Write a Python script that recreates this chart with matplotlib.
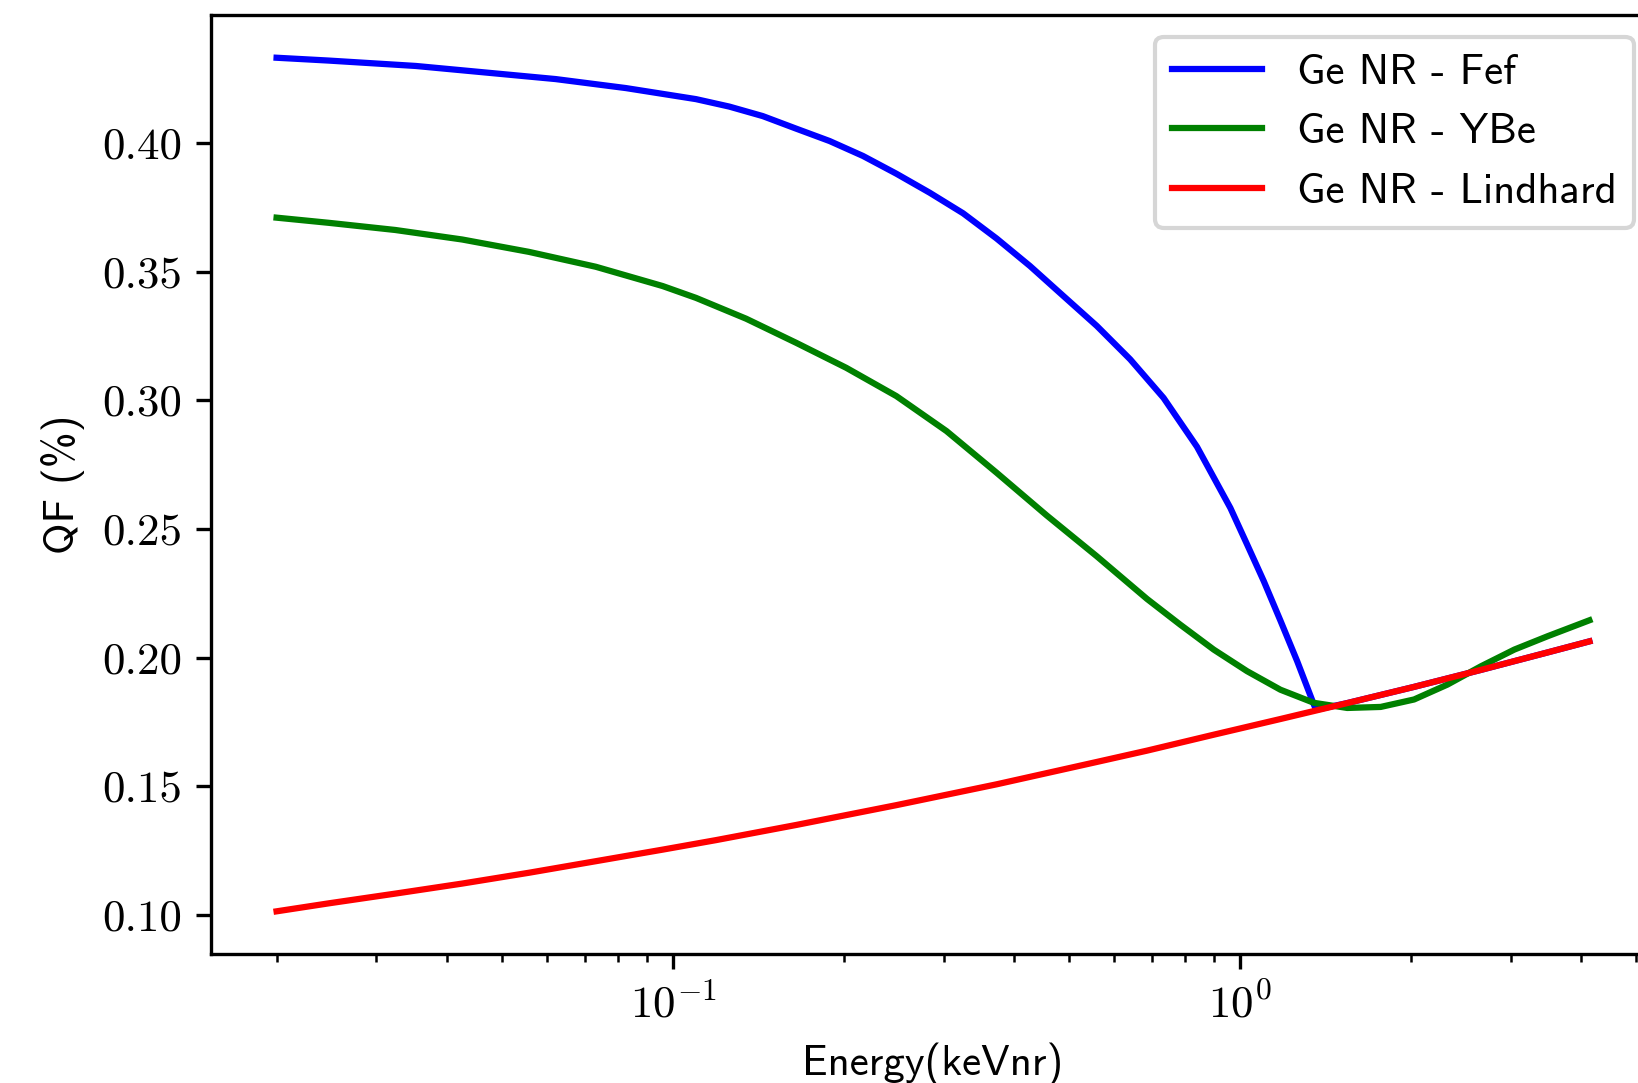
import os
import matplotlib
matplotlib.use("Agg")
import matplotlib.pyplot as plt
from matplotlib import font_manager as fm
from matplotlib.ticker import NullFormatter

# readings: energy (keVnr) and QF
e_fef = [0.02, 0.0247, 0.0352, 0.0621, 0.0826, 0.1098, 0.1257, 0.1440, 0.1650, 0.1889,
         0.2163, 0.2477, 0.2836, 0.3248, 0.3721, 0.4261, 0.4882, 0.5589, 0.6401, 0.7330,
         0.8395, 0.9614, 1.029, 1.1012, 1.178, 1.261, 1.3495, 1.362, 1.5453, 2.027,
         2.659, 3.486, 4.131]
qf_fef = [0.4333, 0.4322, 0.4301, 0.4250, 0.4215, 0.4172, 0.4143, 0.4106, 0.4057, 0.4009,
          0.3951, 0.3882, 0.3808, 0.3728, 0.3630, 0.3523, 0.3406, 0.3290, 0.3160, 0.3010,
          0.2820, 0.2582, 0.2440, 0.2297, 0.2144, 0.1986, 0.1817, 0.1797, 0.1823, 0.1886,
          0.1952, 0.2020, 0.2063]

e_ybe = [0.02, 0.0247, 0.0324, 0.0425, 0.0557, 0.0731, 0.0959, 0.1098, 0.1346, 0.1650,
         0.2021, 0.2477, 0.3036, 0.3721, 0.456, 0.5589, 0.6854, 0.7844, 0.8986, 1.029,
         1.178, 1.3495, 1.5453, 1.7698, 2.027, 2.3215, 2.659, 3.045, 3.486, 4.131]
qf_ybe = [0.3711, 0.3691, 0.3663, 0.3626, 0.3578, 0.3520, 0.3445, 0.3399, 0.3318, 0.3224,
          0.3127, 0.3017, 0.2881, 0.2719, 0.2553, 0.2394, 0.2228, 0.2128, 0.2031, 0.1947,
          0.1875, 0.1824, 0.1804, 0.1808, 0.1837, 0.1895, 0.1966, 0.2031, 0.2083, 0.2145]

e_lind = [0.02, 0.0247, 0.0324, 0.0425, 0.0557, 0.0731, 0.0959, 0.1191, 0.1650, 0.2477,
          0.3721, 0.5589, 0.6854, 0.8986, 1.178, 1.5453, 2.027, 2.659, 3.486, 4.131]
qf_lind = [0.1013, 0.1044, 0.1082, 0.1121, 0.1163, 0.1208, 0.1253, 0.1290, 0.1349, 0.1426,
           0.1507, 0.1594, 0.1638, 0.1700, 0.1761, 0.1823, 0.1886, 0.1952, 0.2020, 0.2063]

labels = ["Ge NR - Fef", "Ge NR - YBe", "Ge NR - Lindhard"]
colors = ["blue", "green", "red"]

yticks = [0.10, 0.15, 0.20, 0.25, 0.30, 0.35, 0.40]
xticks = [0.1, 1.0]
xticklabels = [r"$10^{-1}$", r"$10^{0}$"]

ttf_dir = os.path.join(matplotlib.get_data_path(), "fonts", "ttf")
cmss = fm.FontProperties(fname=os.path.join(ttf_dir, "cmss10.ttf"), size=10.3)
cmr = fm.FontProperties(fname=os.path.join(ttf_dir, "cmr10.ttf"), size=10.8)

plt.rcParams["mathtext.fontset"] = "cm"
plt.rcParams["mathtext.default"] = "rm"

fig = plt.figure(figsize=(1639 / 300, 1083 / 300), dpi=300)
ax = fig.add_axes([0.1287, 0.1191, 0.8811, 0.8670])

for e, q, lab, c in zip([e_fef, e_ybe, e_lind], [qf_fef, qf_ybe, qf_lind], labels, colors):
    ax.plot(e, q, color=c, label=lab)

ax.set_xscale("log")
ax.set_xticks(xticks)
ax.set_xticklabels(xticklabels, fontsize=10.8)
ax.xaxis.set_minor_formatter(NullFormatter())
ax.set_yticks(yticks)
ax.set_yticklabels(["%.2f" % v for v in yticks], fontproperties=cmr)

ax.set_xlabel("Energy(keVnr)", fontproperties=cmss, labelpad=3.8)
ax.set_ylabel("QF (%)", fontproperties=cmss)
ax.legend(loc="upper right", prop=cmss, handlelength=2.1)

fig.savefig("out.png", dpi=300)
